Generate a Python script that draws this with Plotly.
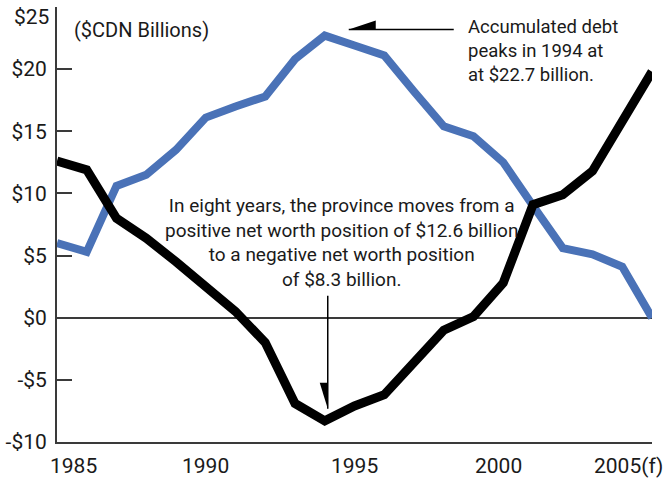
import plotly.graph_objects as go

# Ontario-style provincial finances, 1985 to 2005 (forecast), $CDN billions
years = list(range(1985, 2006))
accumulated_debt = [6.0, 5.3, 10.6, 11.5, 13.5, 16.1, 17.0, 17.8, 20.8, 22.7, 21.9,
                    21.1, 18.2, 15.4, 14.6, 12.5, 9.0, 5.6, 5.1, 4.1, 0.0]
net_worth = [12.6, 11.9, 8.0, 6.4, 4.5, 2.5, 0.5, -2.0, -6.9, -8.3, -7.1,
             -6.2, -3.5, -1.0, 0.1, 2.8, 9.1, 9.9, 11.8, 15.8, 19.8]

y_tick_values = [-10, -5, 0, 5, 10, 15, 20, 25]
x_tick_years = [1985, 1990, 1995, 2000, 2005]
x_tick_labels = ["1985", "1990", "1995", "2000", "2005(f)"]

units_label = "($CDN Billions)"
debt_note = "Accumulated debt<br>peaks in 1994 at<br>at $22.7 billion."
worth_note = ("In eight years, the province moves from a<br>"
              "positive net worth position of $12.6 billion<br>"
              "to a negative net worth position<br>"
              "of $8.3 billion.")

FONT = "Roboto, Arial, sans-serif"
INK = "#1a1a1a"
AXIS = "#3a3a3a"
BLUE = "#4a72b7"


def money(v):
    return f"-${abs(v)}" if v < 0 else f"${v}"


fig = go.Figure()
fig.add_trace(go.Scatter(x=years, y=accumulated_debt, mode="lines",
                         line=dict(color=BLUE, width=8), hoverinfo="skip"))
fig.add_trace(go.Scatter(x=years, y=net_worth, mode="lines",
                         line=dict(color="black", width=9), hoverinfo="skip"))

# y ticks drawn by the axis up to 20; the top label sits just below the frame edge
axis_ticks = y_tick_values[:-1]
fig.update_yaxes(range=[-10, 25], tickvals=axis_ticks,
                 ticktext=[money(v) for v in axis_ticks],
                 ticks="inside", ticklen=15, tickwidth=1.5, tickcolor=AXIS,
                 showline=True, linecolor=AXIS, linewidth=2,
                 showgrid=False, zeroline=True, zerolinecolor=AXIS,
                 zerolinewidth=2, ticklabelstandoff=4,
                 tickfont=dict(family=FONT, size=21, color=INK))
fig.update_xaxes(range=[1985, 2005], showticklabels=False, ticks="",
                 showline=True, linecolor=AXIS, linewidth=2,
                 showgrid=False, zeroline=False)

annotations = [
    dict(x=0, xref="paper", xanchor="right", xshift=-6,
         y=y_tick_values[-1], yref="y", yanchor="top", yshift=4,
         text=money(y_tick_values[-1]), showarrow=False,
         font=dict(family=FONT, size=21, color=INK)),
]

# year labels under the bottom axis; the two end labels are nudged inward
x_label_shift = [16, 0, 0, -5, -24]
for yr, lab, dx in zip(x_tick_years, x_tick_labels, x_label_shift):
    annotations.append(dict(x=yr, xref="x", y=0, yref="paper", yanchor="top",
                            yshift=-10, xshift=dx, text=lab, showarrow=False,
                            font=dict(family=FONT, size=21, color=INK)))

annotations += [
    dict(x=1985.5, y=24.3, xref="x", yref="y", xanchor="left", yanchor="top",
         text=units_label, showarrow=False, align="left",
         font=dict(family=FONT, size=20, color=INK)),
    dict(x=1998.75, y=24.4, xref="x", yref="y", xanchor="left", yanchor="top",
         text=debt_note, showarrow=False, align="left",
         font=dict(family=FONT, size=18.5, color=INK)),
    dict(x=1994.55, y=10.1, xref="x", yref="y", xanchor="center", yanchor="top",
         text=worth_note, showarrow=False, align="center",
         font=dict(family=FONT, size=19, color=INK)),
]

# pointer arrows with half arrowheads
peak_i = accumulated_debt.index(max(accumulated_debt))
low_i = net_worth.index(min(net_worth))
px_year = 20 / 595.0      # years per pixel
px_val = 35 / 435.0       # $B per pixel

tip1_x = years[peak_i] + 24 * px_year
tip1_y = accumulated_debt[peak_i] + 6 * px_val
tip2_x = years[low_i] + 3 * px_year
tip2_y = net_worth[low_i] + 12 * px_val

shapes = [
    dict(type="line", xref="x", yref="y", x0=tip1_x, y0=tip1_y,
         x1=tip1_x + 105 * px_year, y1=tip1_y, line=dict(color="black", width=1.5)),
    dict(type="path", xref="x", yref="y", fillcolor="black", line=dict(width=0),
         path=(f"M {tip1_x},{tip1_y} L {tip1_x + 27 * px_year},{tip1_y + 9 * px_val} "
               f"L {tip1_x + 27 * px_year},{tip1_y} Z")),
    dict(type="line", xref="x", yref="y", x0=tip2_x, y0=tip2_y,
         x1=tip2_x, y1=tip2_y + 113 * px_val, line=dict(color="black", width=1.5)),
    dict(type="path", xref="x", yref="y", fillcolor="black", line=dict(width=0),
         path=(f"M {tip2_x},{tip2_y} L {tip2_x - 8 * px_year},{tip2_y + 26 * px_val} "
               f"L {tip2_x},{tip2_y + 26 * px_val} Z")),
]

fig.update_layout(width=668, height=478, showlegend=False,
                  margin=dict(l=57, r=16, t=7, b=36),
                  paper_bgcolor="white", plot_bgcolor="white",
                  annotations=annotations, shapes=shapes)

fig.write_html("out.html")
